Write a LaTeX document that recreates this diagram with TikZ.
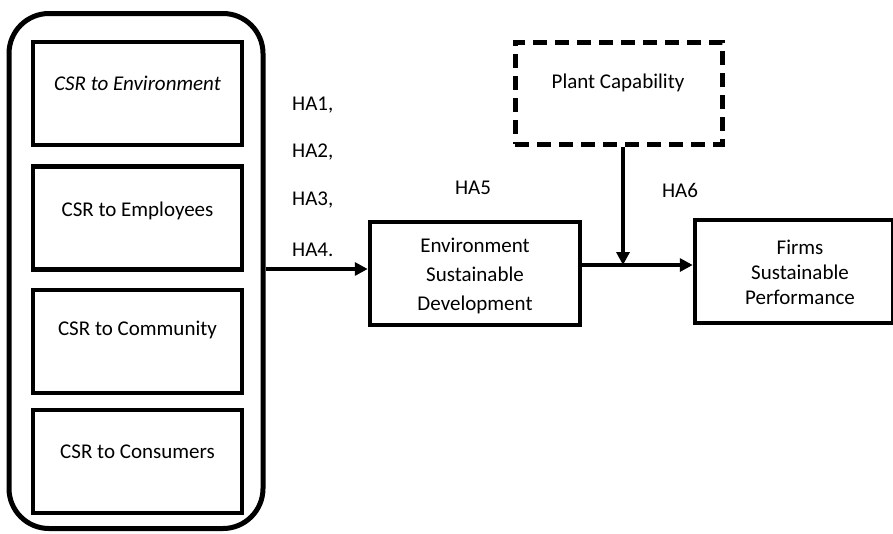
\documentclass[tikz,border=0pt]{standalone}
\usepackage{fontspec}
\setmainfont{Carlito}
\usetikzlibrary{arrows.meta}
\begin{document}
\begin{tikzpicture}[x=1pt,y=-1pt,
  box/.style={draw, line width=4.5pt, inner sep=0pt},
  outerbox/.style={draw, line width=5pt, rounded corners=40pt, inner sep=0pt},
  dbox/.style={draw, line width=5pt, dash pattern=on 14pt off 8pt, inner sep=0pt},
  txt/.style={font=\fontsize{21}{29}\selectfont, inner sep=0pt, align=center},
  lab/.style={font=\fontsize{21}{22}\selectfont, inner sep=0pt},
  conn/.style={line width=3.5pt, -{Triangle[length=13pt,width=13pt]}}]
\useasboundingbox (0,0) rectangle (893,533);
% outer group
\node[outerbox, minimum width=254pt, minimum height=515pt] (outer) at (136,271) {};
% inner boxes
\node[box, minimum width=209pt, minimum height=103pt] (b1) at (137.5,93.5) {};
\node[box, minimum width=209pt, minimum height=103pt] (b2) at (137.5,218) {};
\node[box, minimum width=209pt, minimum height=103pt] (b3) at (137.5,341.5) {};
\node[box, minimum width=209pt, minimum height=103pt] (b4) at (137.5,461.5) {};
\node[txt] (t1) at (137.5,83) {\itshape CSR to Environment};
\node[txt] (t2) at (137.5,211) {CSR to Employees};
\node[txt] (t3) at (137.5,330) {CSR to Community};
\node[txt] (t4) at (137.5,452) {CSR to Consumers};
% environment box
\node[box, minimum width=210pt, minimum height=103pt] (env) at (475,273.5) {};
\node[txt] (envt) at (475,276) {Environment\\Sustainable\\Development};
% firms box
\node[box, minimum width=198pt, minimum height=103pt] (firms) at (794,271.5) {};
\node[txt, font=\fontsize{21}{25}\selectfont] (firmst) at (800,272) {Firms\\Sustainable\\Performance};
% plant capability
\node[dbox, minimum width=207pt, minimum height=102pt] (plant) at (618.5,93) {};
\node[txt] (plantt) at (618,83) {Plant Capability};
% labels
\node[lab, anchor=west] (ha1) at (292,105) {HA1,};
\node[lab, anchor=west] (ha2) at (292,152) {HA2,};
\node[lab, anchor=west] (ha3) at (292,200) {HA3,};
\node[lab, anchor=west] (ha4) at (292,250) {HA4.};
\node[lab] (ha5) at (473,188) {HA5};
\node[lab] (ha6) at (680,190) {HA6};
% connectors
\coordinate (m) at (623,265);
\coordinate (l) at (0,269);
\draw[conn] (outer.east |- l) -- (env.west |- l);
\draw[line width=3.5pt] (env.east |- m) -- (m);
\draw[conn] (m) -- (firms.west |- m);
\draw[conn] (plant.south -| m) -- (m);
\end{tikzpicture}
\end{document}
